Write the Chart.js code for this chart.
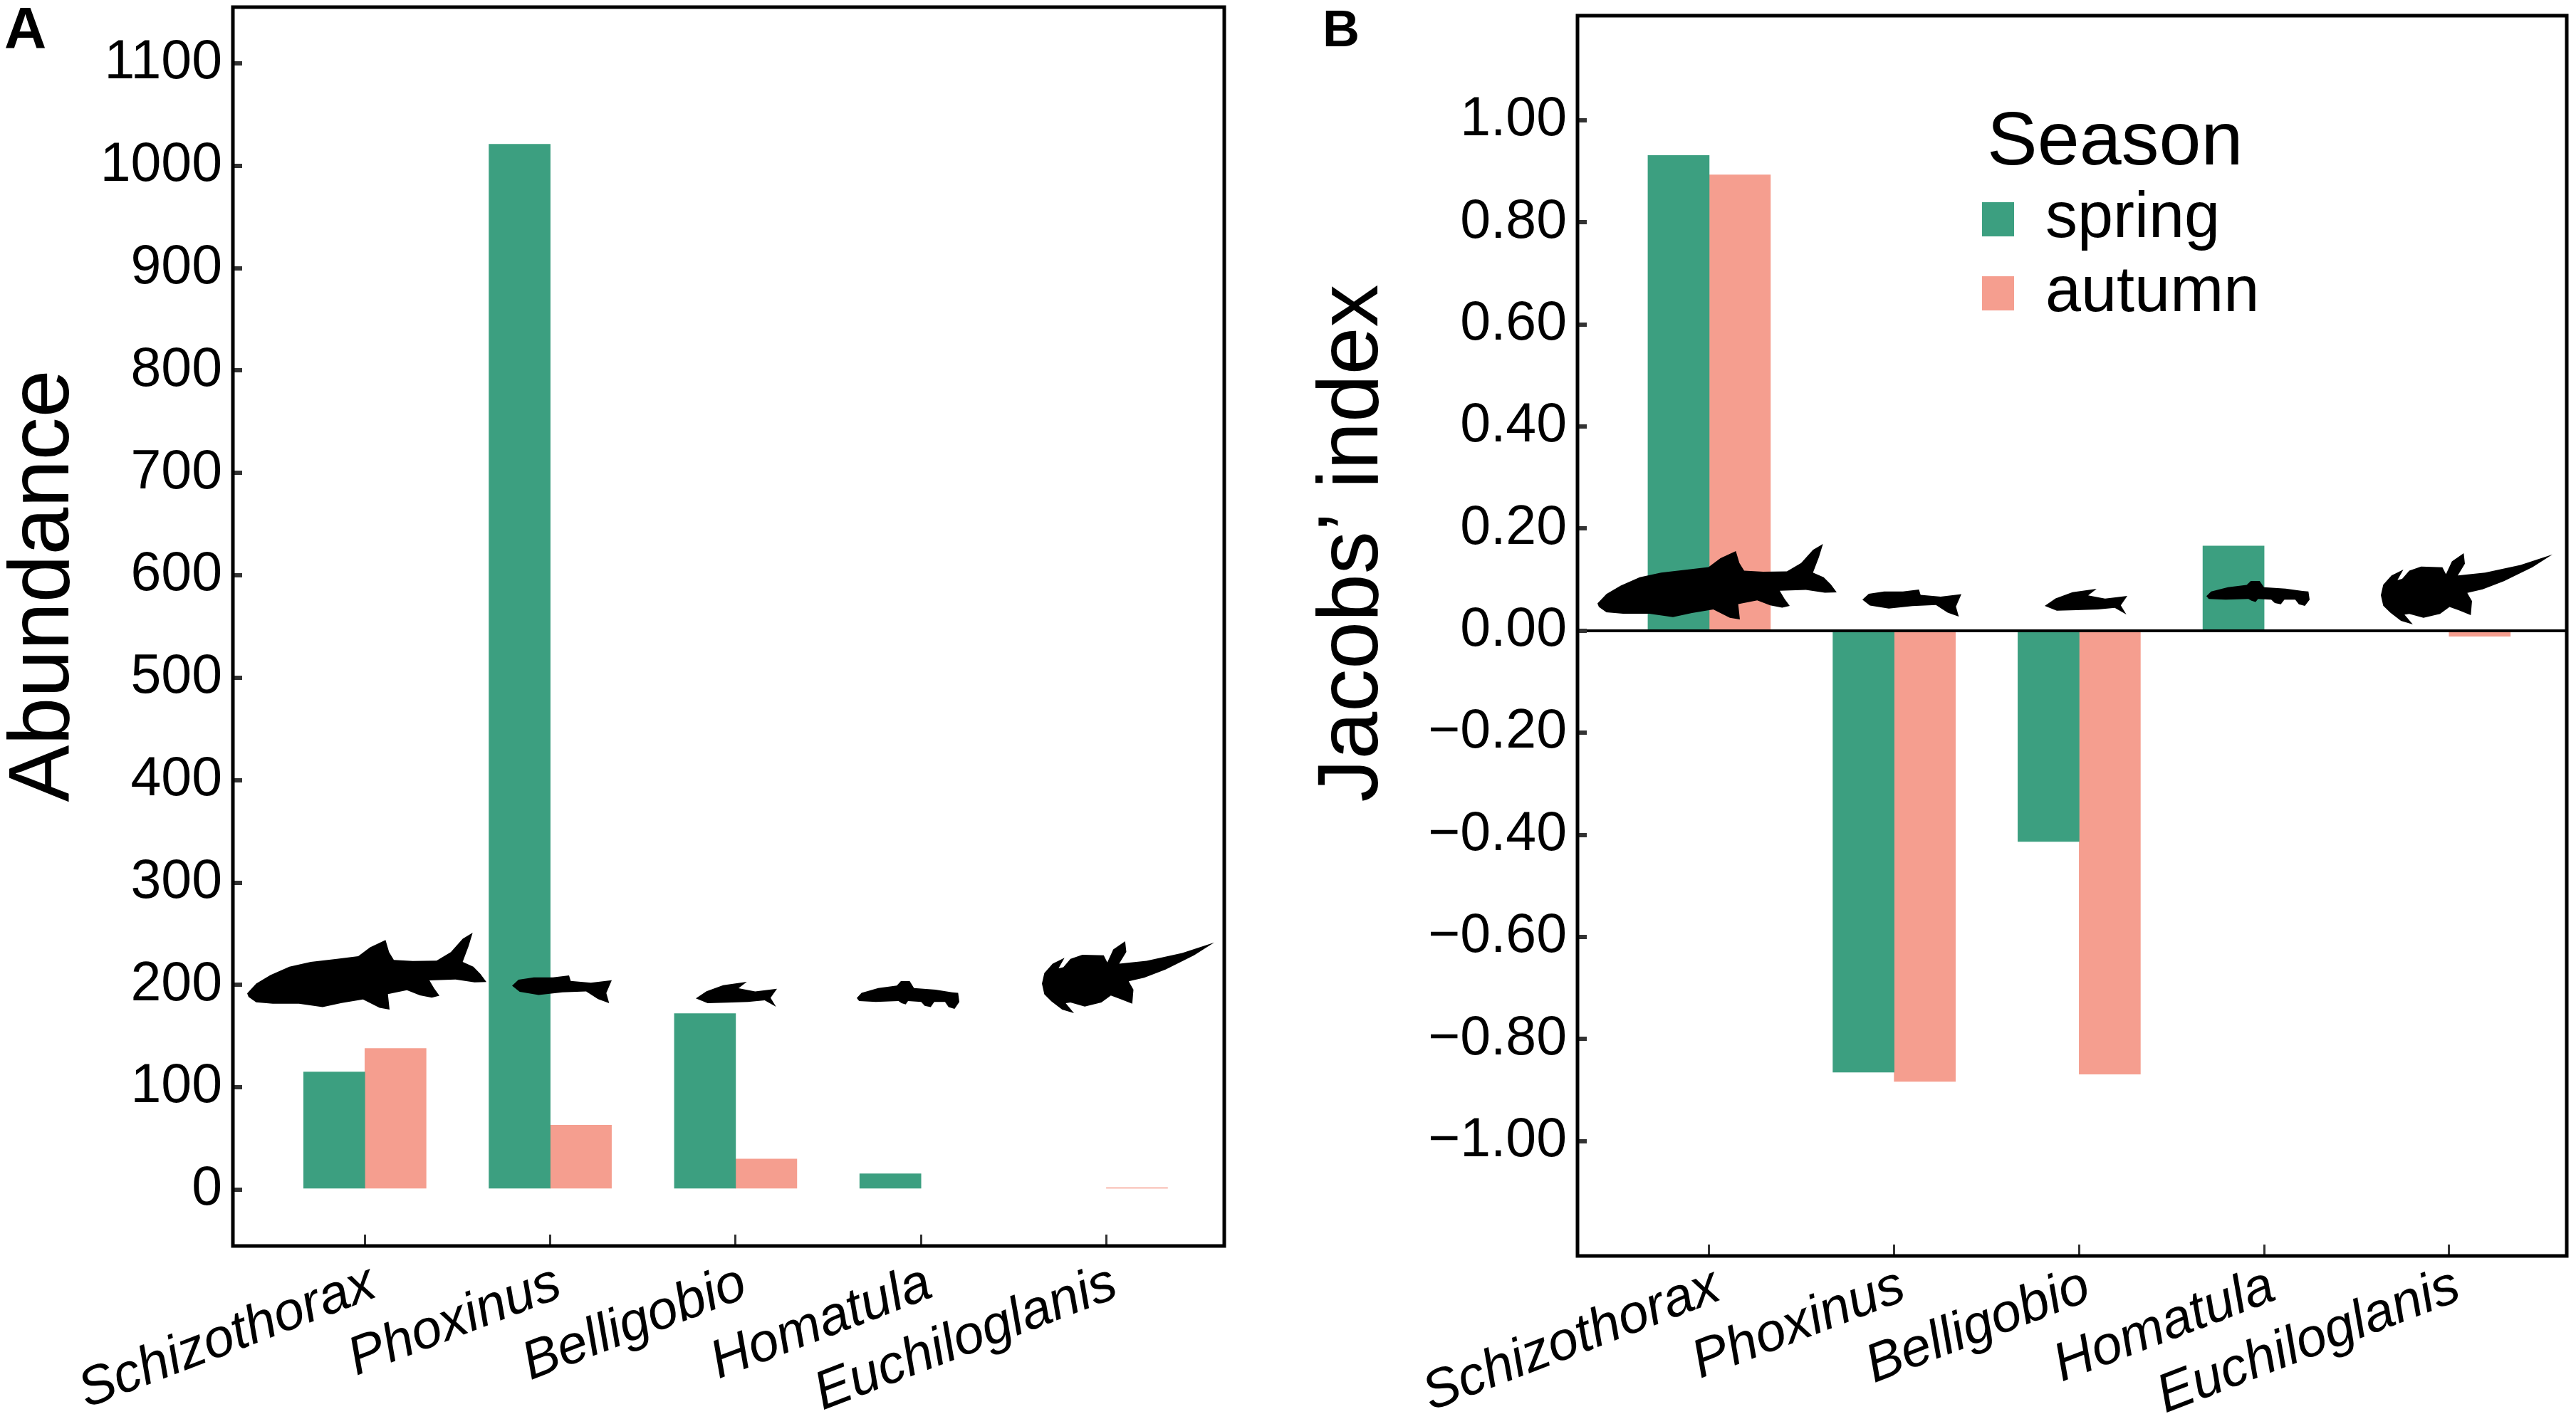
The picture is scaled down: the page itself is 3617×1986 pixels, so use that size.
<!DOCTYPE html>
<html>
<head>
<meta charset="utf-8">
<title>Abundance and Jacobs' index</title>
<script src="https://cdn.jsdelivr.net/npm/chart.js@4/dist/chart.umd.js"></script>
<style>
  html, body { margin: 0; padding: 0; background: #fff; }
  canvas { position: absolute; top: 0; }
  #chartA { left: 0; }
  #chartB { left: 1790px; }
</style>
</head>
<body>
<canvas id="chartA" width="1790" height="1986"></canvas>
<canvas id="chartB" width="1827" height="1986"></canvas>
<script>
const genera = ['Schizothorax', 'Phoxinus', 'Belligobio', 'Homatula', 'Euchiloglanis'];
const abundanceSpring = [115, 1021, 172, 15.5, null];
const abundanceAutumn = [138, 63, 30, null, 2];
const jacobsSpring = [0.931, -0.865, -0.413, 0.166, null];
const jacobsAutumn = [0.893, -0.883, -0.869, null, -0.011];
const abundanceTicks = [0, 100, 200, 300, 400, 500, 600, 700, 800, 900, 1000, 1100];
const jacobsTicks = [-1, -0.8, -0.6, -0.4, -0.2, 0, 0.2, 0.4, 0.6, 0.8, 1];

const GREEN = '#3c9f80';
const SALMON = '#f59e8f';
const FONT = '"Liberation Sans", Arial, sans-serif';

Chart.defaults.font.family = FONT;
Chart.defaults.color = '#000';

// fish silhouettes, outlines in their own units, scaled into a box when drawn
const fishShapes = [
  [[22,285],[60,245],[120,210],[200,175],[290,155],[400,143],[490,132],[540,95],[605,65],[620,115],[640,147],[720,152],[820,150],[880,115],[930,60],[972,35],[955,90],[930,155],[975,175],[1005,205],[1030,238],[980,240],[900,228],[790,232],[810,265],[832,295],[800,303],[750,293],[695,272],[615,288],[622,352],[580,345],[510,310],[420,325],[340,342],[240,328],[130,328],[60,322],[28,300]],
  [[58,75],[85,50],[150,40],[230,40],[298,32],[305,55],[390,62],[478,52],[455,105],[467,147],[420,130],[370,98],[270,102],[170,113],[90,100]],
  [[830,127],[875,97],[945,72],[1045,58],[1010,85],[1080,98],[1172,87],[1145,125],[1168,162],[1120,135],[1050,142],[960,145],[880,147]],
  [[40,110],[60,90],[130,72],[208,62],[225,45],[262,45],[280,72],[370,78],[440,88],[465,90],[470,125],[450,152],[425,145],[410,125],[365,125],[350,145],[325,140],[310,125],[255,122],[245,135],[228,130],[215,122],[120,125],[50,122]],
  [[10,215],[20,170],[55,130],[105,105],[80,150],[100,145],[130,110],[180,92],[270,95],[285,125],[310,70],[360,35],[365,80],[335,130],[450,118],[600,85],[735,40],[650,95],[530,155],[440,190],[375,205],[395,240],[390,300],[340,280],[300,265],[260,295],[190,312],[130,295],[110,298],[145,340],[95,325],[50,290],[20,260]]
];
const fishBoxesA = [[347,1310,683,1418],[719,1370,859,1409],[977,1379,1091,1414],[1203,1378,1347,1417],[1463,1322,1705,1423]];
const fishBoxesB = [[453,764,789,870],[825,828,964,866],[1081,827,1197,863],[1308,816,1453,851],[1553,777,1794,877]];

function drawFish(ctx, shape, box) {
  const xs = shape.map(p => p[0]);
  const ys = shape.map(p => p[1]);
  const x0 = Math.min(...xs), y0 = Math.min(...ys);
  const sx = (box[2] - box[0]) / (Math.max(...xs) - x0);
  const sy = (box[3] - box[1]) / (Math.max(...ys) - y0);
  ctx.beginPath();
  shape.forEach((p, i) => {
    const x = box[0] + (p[0] - x0) * sx;
    const y = box[1] + (p[1] - y0) * sy;
    if (i === 0) ctx.moveTo(x, y); else ctx.lineTo(x, y);
  });
  ctx.closePath();
  ctx.fill();
}

// frame, panel letter, rotated axis title, fish and (on B) the legend
const panelPlugin = {
  id: 'panel',
  afterDraw(chart, args, opts) {
    const { ctx, chartArea: a } = chart;
    ctx.save();
    ctx.strokeStyle = '#000';
    ctx.lineWidth = 5;
    ctx.strokeRect(a.left, a.top, a.right - a.left, a.bottom - a.top);

    ctx.fillStyle = '#000';
    opts.boxes.forEach((box, i) => drawFish(ctx, fishShapes[i], box));

    ctx.textAlign = 'left';
    ctx.textBaseline = 'alphabetic';
    ctx.font = 'bold ' + opts.letter.size + 'px ' + FONT;
    ctx.fillText(opts.letter.text, opts.letter.x, opts.letter.y);

    ctx.save();
    ctx.translate(opts.title.x, opts.title.y);
    ctx.rotate(-Math.PI / 2);
    ctx.textAlign = 'center';
    ctx.font = '120px ' + FONT;
    ctx.fillText(opts.title.text, 0, 0);
    ctx.restore();

    if (opts.legend) {
      const l = opts.legend;
      ctx.font = '106px ' + FONT;
      ctx.fillText('Season', l.x + 7, l.y - 53);
      ctx.font = '90px ' + FONT;
      chart.data.datasets.forEach((ds, i) => {
        const base = l.y + 49 + i * 104;
        ctx.fillStyle = ds.backgroundColor;
        ctx.fillRect(l.x, base - 49, 45, 48);
        ctx.fillStyle = '#000';
        ctx.fillText(ds.label, l.x + 89, base);
      });
    }
    ctx.restore();
  }
};

function makePanel(id, spring, autumn, yTicks, yMin, yMax, pad, panel) {
  return new Chart(document.getElementById(id), {
    type: 'bar',
    data: {
      datasets: [
        { label: 'spring', data: genera.map((g, i) => ({ x: i, y: spring[i] })), backgroundColor: GREEN },
        { label: 'autumn', data: genera.map((g, i) => ({ x: i, y: autumn[i] })), backgroundColor: SALMON }
      ]
    },
    options: {
      responsive: false,
      animation: false,
      devicePixelRatio: 1,
      layout: { padding: { top: pad.top, right: pad.right, left: 0, bottom: 0 } },
      datasets: { bar: { barThickness: 86, grouped: true } },
      scales: {
        x: {
          type: 'linear',
          offset: false,
          min: -0.712,
          max: 4.636,
          afterBuildTicks: s => { s.ticks = genera.map((g, i) => ({ value: i })); },
          afterFit: s => { s.height = pad.bottomH; s.paddingLeft = 0; s.paddingRight = 0; },
          border: { display: false },
          grid: { offset: false, drawOnChartArea: false, tickLength: -16, tickWidth: 3, tickColor: '#333' },
          ticks: {
            autoSkip: false,
            minRotation: 21,
            maxRotation: 21,
            padding: pad.labelGap,
            labelOffset: 12,
            font: { size: 76, style: 'italic' },
            callback: v => genera[v]
          }
        },
        y: {
          min: yMin,
          max: yMax,
          afterBuildTicks: s => { s.ticks = yTicks.map(v => ({ value: v })); },
          afterFit: s => { s.width = pad.axisX; s.paddingTop = 0; s.paddingBottom = 0; },
          border: { display: false },
          grid: {
            z: 1,
            color: c => (panel.zeroLine && c.tick && c.tick.value === 0 ? '#000' : 'rgba(0,0,0,0)'),
            lineWidth: 4,
            tickLength: -13,
            tickWidth: 6,
            tickColor: '#333'
          },
          ticks: {
            autoSkip: false,
            padding: 28,
            font: { size: 77 },
            callback: panel.format
          }
        }
      },
      plugins: {
        legend: { display: false },
        tooltip: { enabled: false },
        panel: panel
      }
    },
    plugins: [panelPlugin]
  });
}

makePanel('chartA', abundanceSpring, abundanceAutumn, abundanceTicks, -55, 1155,
  { top: 10, right: 71, bottomH: 236, axisX: 327, labelGap: 24 },
  {
    format: v => String(v),
    boxes: fishBoxesA,
    letter: { text: 'A', size: 82, x: 6, y: 67 },
    title: { text: 'Abundance', x: 96, y: 823 }
  });

makePanel('chartB', jacobsSpring, jacobsAutumn, jacobsTicks, -1.225, 1.205,
  { top: 22, right: 13, bottomH: 222, axisX: 425, labelGap: 14 },
  {
    zeroLine: true,
    format: v => (v < 0 ? '\u2212' : '') + Math.abs(v).toFixed(2),
    boxes: fishBoxesB,
    letter: { text: 'B', size: 72, x: 67, y: 65 },
    title: { text: "Jacobs\u2019 index", x: 144, y: 763 },
    legend: { x: 993, y: 284 }
  });
</script>
</body>
</html>
